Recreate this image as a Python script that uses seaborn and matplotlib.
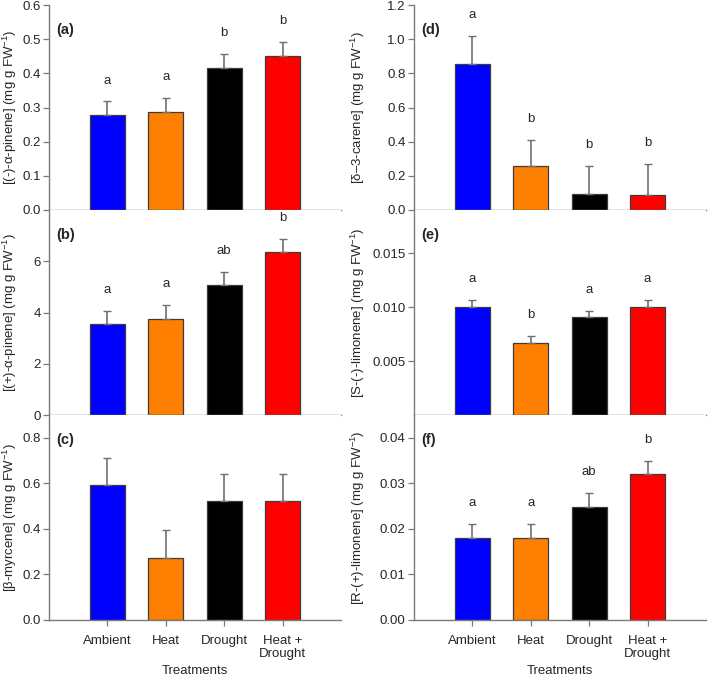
import matplotlib
matplotlib.use("Agg")
import matplotlib.pyplot as plt
import seaborn as sns
import pandas as pd
import numpy as np

# ---------------- data ----------------
treatments = ["Ambient", "Heat", "Drought", "Heat +\nDrought"]
bar_colors = ["#0000ff", "#ff8000", "#000000", "#ff0000"]

a_mean = [0.278, 0.288, 0.415, 0.451]
a_err = [0.040, 0.039, 0.041, 0.040]
a_letters = ["a", "a", "b", "b"]

b_mean = [3.57, 3.76, 5.07, 6.37]
b_err = [0.50, 0.52, 0.50, 0.50]
b_letters = ["a", "a", "ab", "b"]

c_mean = [0.592, 0.271, 0.521, 0.524]
c_err = [0.120, 0.122, 0.119, 0.118]
c_letters = ["", "", "", ""]

d_mean = [0.857, 0.258, 0.094, 0.090]
d_err = [0.161, 0.151, 0.164, 0.180]
d_letters = ["a", "b", "b", "b"]

e_mean = [0.0100, 0.0067, 0.00905, 0.0100]
e_err = [0.00065, 0.0006, 0.0006, 0.00065]
e_letters = ["a", "b", "a", "a"]

f_mean = [0.0180, 0.0180, 0.0249, 0.0320]
f_err = [0.0030, 0.0030, 0.0030, 0.0030]
f_letters = ["a", "a", "ab", "b"]

a_ticks = [0.0, 0.1, 0.2, 0.3, 0.4, 0.5, 0.6]
b_ticks = [0, 2, 4, 6]
c_ticks = [0.0, 0.2, 0.4, 0.6, 0.8]
d_ticks = [0.0, 0.2, 0.4, 0.6, 0.8, 1.0, 1.2]
e_ticks = [0.005, 0.010, 0.015]
f_ticks = [0.00, 0.01, 0.02, 0.03, 0.04]

a_ticklabels = ["0.0", "0.1", "0.2", "0.3", "0.4", "0.5", "0.6"]
b_ticklabels = ["0", "2", "4", "6"]
c_ticklabels = ["0.0", "0.2", "0.4", "0.6", "0.8"]
d_ticklabels = ["0.0", "0.2", "0.4", "0.6", "0.8", "1.0", "1.2"]
e_ticklabels = ["0.005", "0.010", "0.015"]
f_ticklabels = ["0.00", "0.01", "0.02", "0.03", "0.04"]

# ---------------- style ----------------
sns.set_style("ticks")
plt.rcParams["font.family"] = ["Liberation Sans", "DejaVu Sans"]
plt.rcParams["mathtext.fontset"] = "custom"
plt.rcParams["mathtext.rm"] = "Liberation Sans"
plt.rcParams["mathtext.it"] = "Liberation Sans:italic"

spine_col = "#7a7a7a"
edge_col = "#3c3c3c"
err_col = "#707070"
FS = 9.5

fig = plt.figure(figsize=(7.08, 6.8), dpi=100)
W, H = 708, 680


def make_ax(left_px, top_px, bottom_px, right_px):
    return fig.add_axes([left_px / W, 1 - bottom_px / H,
                         (right_px - left_px) / W, (bottom_px - top_px) / H])


panels = [
    # (mean, err, letters, ylim, ticks, ticklabels, ylabel, tag, col, row)
    (a_mean, a_err, a_letters, (0, 0.6), a_ticks, a_ticklabels,
     "[(-)-α-pinene] (mg g FW$^{-1}$)", "(a)", 0, 0),
    (b_mean, b_err, b_letters, (0, 8), b_ticks, b_ticklabels,
     "[(+)-α-pinene] (mg g FW$^{-1}$)", "(b)", 0, 1),
    (c_mean, c_err, c_letters, (0, 0.9), c_ticks, c_ticklabels,
     "[β-myrcene] (mg g FW$^{-1}$)", "(c)", 0, 2),
    (d_mean, d_err, d_letters, (0, 1.2), d_ticks, d_ticklabels,
     "[δ–3-carene] (mg g FW$^{-1}$)", "(d)", 1, 0),
    (e_mean, e_err, e_letters, (0, 0.019), e_ticks, e_ticklabels,
     "[S-(-)-limonene] (mg g FW$^{-1}$)", "(e)", 1, 1),
    (f_mean, f_err, f_letters, (0, 0.045), f_ticks, f_ticklabels,
     "[R-(+)-limonene] (mg g FW$^{-1}$)", "(f)", 1, 2),
]

col_left = [49, 414]
col_right = [341, 706]
row_edges = [(5, 210), (210, 415), (415, 620)]

for mean, err, letters, ylim, ticks, ticklabels, ylabel, tag, col, row in panels:
    top, bot = row_edges[row]
    ax = make_ax(col_left[col], top, bot, col_right[col])
    df = pd.DataFrame({"Treatment": treatments, "value": mean})
    sns.barplot(data=df, x="Treatment", y="value", hue="Treatment",
                palette=bar_colors, order=treatments, hue_order=treatments,
                width=0.6, edgecolor=edge_col, linewidth=0.9,
                legend=False, ax=ax, errorbar=None, saturation=1)
    xs = np.arange(len(treatments))
    ax.errorbar(xs, mean, yerr=[np.zeros(len(mean)), err], fmt="none",
                ecolor=err_col, elinewidth=1.2, capsize=2.6, capthick=1.0,
                zorder=1)
    for x, m, e, lab in zip(xs, mean, err, letters):
        if lab:
            ax.annotate(lab, (x, m + e), xytext=(0, 15),
                        textcoords="offset points", ha="center", va="center",
                        fontsize=FS)
    ax.set_xlim(-1, 4)
    ax.set_ylim(*ylim)
    ax.set_yticks(ticks)
    ax.set_yticklabels(ticklabels, fontsize=FS)
    ax.set_ylabel(ylabel, fontsize=FS)
    ax.yaxis.set_label_coords(-0.104 if col == 0 else -0.162, 0.5)
    for s in ["top", "right"]:
        ax.spines[s].set_visible(False)
    for s in ["left", "bottom"]:
        ax.spines[s].set_color(spine_col)
        ax.spines[s].set_linewidth(1.0)
    ax.tick_params(axis="y", length=4, width=0.9, color=spine_col,
                   labelsize=FS, pad=2)
    if row == 2:
        ax.set_xticks(xs)
        ax.set_xticklabels(treatments, fontsize=FS, linespacing=1.05)
        ax.tick_params(axis="x", length=4, width=0.9, color=spine_col,
                       labelsize=FS, pad=7)
        ax.set_xlabel("Treatments", fontsize=FS, labelpad=4)
    else:
        ax.set_xticks([])
        ax.set_xlabel("")
    ax.text(0.025, 0.88, tag, transform=ax.transAxes, fontsize=10.5,
            fontweight="bold", ha="left", va="center")

fig.savefig("out.png", dpi=100)
